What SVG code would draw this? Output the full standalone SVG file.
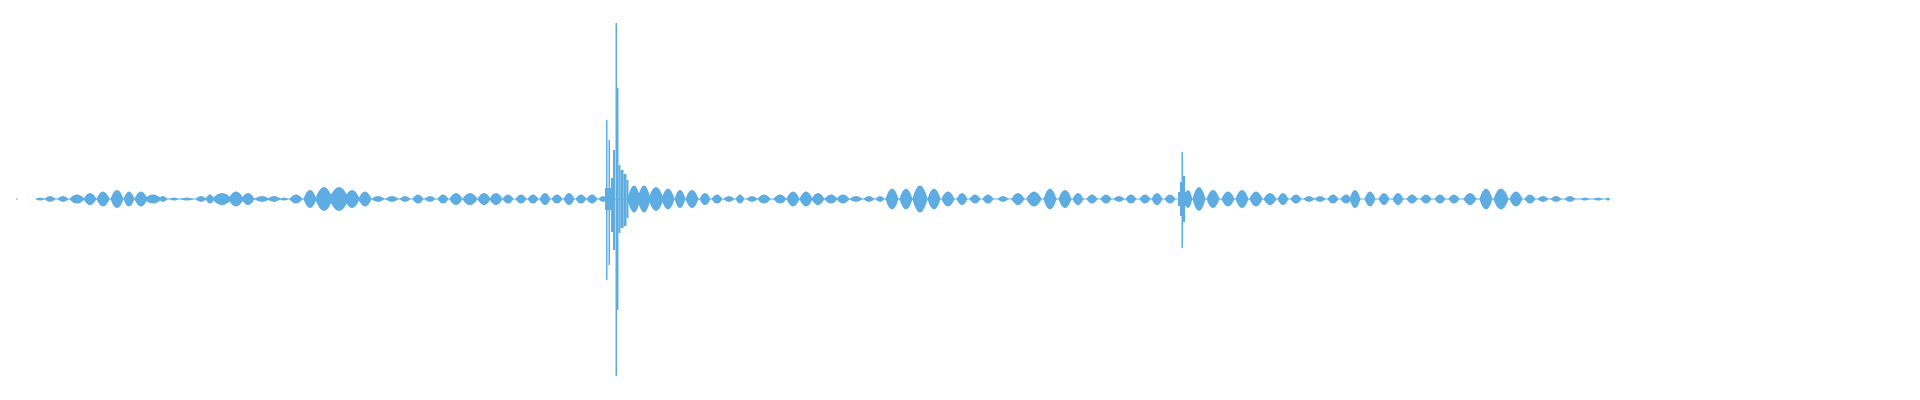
<svg xmlns="http://www.w3.org/2000/svg" width="1920" height="400" viewBox="0 0 1920 400">
<defs><path id="b" d="M-1.1 0Q0 -3 1.1 0Q0 3 -1.1 0Z"/></defs>
<style>use{fill:#5dade2}.r{fill:#5dade2}</style>
<rect width="1920" height="400" fill="#fff"/>
<g id="wave">
<rect class="r" x="16" y="198.5" width="2" height="1"/>
<rect class="r" x="36" y="198.5" width="1572" height="1"/>
<use href="#b" transform="translate(40,199) scale(4,1)"/><use href="#b" transform="translate(50,199) scale(5,2)"/><use href="#b" transform="translate(63,199) scale(5,2)"/><use href="#b" transform="translate(77,199) scale(7,3)"/><use href="#b" transform="translate(90,199) scale(6,4)"/><use href="#b" transform="translate(103,199) scale(6,5)"/><use href="#b" transform="translate(117,199) scale(6,6)"/><use href="#b" transform="translate(129,199) scale(5,5)"/><use href="#b" transform="translate(141,199) scale(6,5)"/><use href="#b" transform="translate(153,199) scale(8,3)"/><use href="#b" transform="translate(163,199) scale(4,2)"/><use href="#b" transform="translate(174,199) scale(4,1)"/><use href="#b" transform="translate(187,199) scale(6,1)"/><use href="#b" transform="translate(201,199) scale(5,2)"/><use href="#b" transform="translate(210,199) scale(4,3)"/><use href="#b" transform="translate(222,199) scale(9,4)"/><use href="#b" transform="translate(236,199) scale(7,5)"/><use href="#b" transform="translate(248,199) scale(6,4)"/><use href="#b" transform="translate(262,199) scale(7,2)"/><use href="#b" transform="translate(274,199) scale(6,2)"/><use href="#b" transform="translate(284,199) scale(4,1)"/><use href="#b" transform="translate(296,199) scale(6,3)"/><use href="#b" transform="translate(310,199) scale(6,6)"/><use href="#b" transform="translate(324,199) scale(8,8)"/><use href="#b" transform="translate(339,199) scale(9,8)"/><use href="#b" transform="translate(352,199) scale(7,6)"/><use href="#b" transform="translate(365,199) scale(6,5)"/><use href="#b" transform="translate(378,199) scale(6,2)"/><use href="#b" transform="translate(392,199) scale(6,2)"/><use href="#b" transform="translate(405,199) scale(5,2)"/><use href="#b" transform="translate(418,199) scale(5,3)"/><use href="#b" transform="translate(430,199) scale(5,2)"/><use href="#b" transform="translate(443,199) scale(5,3)"/><use href="#b" transform="translate(456,199) scale(6,4)"/><use href="#b" transform="translate(470,199) scale(7,4)"/><use href="#b" transform="translate(484,199) scale(6,4)"/><use href="#b" transform="translate(496,199) scale(6,4)"/><use href="#b" transform="translate(508,199) scale(5,3)"/><use href="#b" transform="translate(521,199) scale(5,3)"/><use href="#b" transform="translate(533,199) scale(5,3)"/><use href="#b" transform="translate(545,199) scale(5,4)"/><use href="#b" transform="translate(557,199) scale(5,3)"/><use href="#b" transform="translate(569,199) scale(5,4)"/><use href="#b" transform="translate(581,199) scale(5,3)"/><use href="#b" transform="translate(592,199) scale(5,3)"/><use href="#b" transform="translate(603,199) scale(4,2)"/>
<rect class="r" x="615.5" y="23" width="1.5" height="353"/>
<rect class="r" x="606" y="120" width="1.5" height="160"/>
<rect class="r" x="608.5" y="140" width="1.5" height="125"/>
<rect class="r" x="605" y="188" width="6" height="22"/>
<rect class="r" x="611" y="178" width="2" height="54"/>
<rect class="r" x="613" y="150" width="2" height="100"/>
<rect class="r" x="617" y="88" width="1.5" height="222"/>
<rect class="r" x="618.5" y="165" width="2" height="68"/>
<rect class="r" x="620.5" y="170" width="3" height="58"/>
<rect class="r" x="623.5" y="174" width="3" height="52"/>
<rect class="r" x="626.5" y="180" width="2" height="38"/>
<use href="#b" transform="translate(634,199) scale(6,9)"/><use href="#b" transform="translate(644,199) scale(6,9)"/><use href="#b" transform="translate(656,199) scale(7,8)"/><use href="#b" transform="translate(668,199) scale(6,7)"/><use href="#b" transform="translate(680,199) scale(5,6)"/><use href="#b" transform="translate(692,199) scale(6,6)"/><use href="#b" transform="translate(705,199) scale(5,4)"/><use href="#b" transform="translate(717,199) scale(5,3)"/><use href="#b" transform="translate(729,199) scale(5,2)"/><use href="#b" transform="translate(740,199) scale(4,3)"/><use href="#b" transform="translate(752,199) scale(5,2)"/><use href="#b" transform="translate(764,199) scale(6,3)"/><use href="#b" transform="translate(780,199) scale(6,3)"/><use href="#b" transform="translate(793,199) scale(6,5)"/><use href="#b" transform="translate(806,199) scale(6,5)"/><use href="#b" transform="translate(818,199) scale(6,4)"/><use href="#b" transform="translate(831,199) scale(6,3)"/><use href="#b" transform="translate(843,199) scale(6,3)"/><use href="#b" transform="translate(856,199) scale(6,2)"/><use href="#b" transform="translate(869,199) scale(5,2)"/><use href="#b" transform="translate(880,199) scale(4,2)"/><use href="#b" transform="translate(892,199) scale(6,7)"/><use href="#b" transform="translate(906,199) scale(6,7)"/><use href="#b" transform="translate(920,199) scale(7,9)"/><use href="#b" transform="translate(934,199) scale(6,7)"/><use href="#b" transform="translate(948,199) scale(6,5)"/><use href="#b" transform="translate(962,199) scale(5,4)"/><use href="#b" transform="translate(975,199) scale(5,3)"/><use href="#b" transform="translate(988,199) scale(5,3)"/><use href="#b" transform="translate(1003,199) scale(5,2)"/><use href="#b" transform="translate(1018,199) scale(6,4)"/><use href="#b" transform="translate(1034,199) scale(7,5)"/><use href="#b" transform="translate(1050,199) scale(6,7)"/><use href="#b" transform="translate(1065,199) scale(6,6)"/><use href="#b" transform="translate(1078,199) scale(5,4)"/><use href="#b" transform="translate(1092,199) scale(5,3)"/><use href="#b" transform="translate(1106,199) scale(5,3)"/><use href="#b" transform="translate(1119,199) scale(5,2)"/><use href="#b" transform="translate(1131,199) scale(5,3)"/><use href="#b" transform="translate(1145,199) scale(5,3)"/><use href="#b" transform="translate(1157,199) scale(5,4)"/><use href="#b" transform="translate(1170,199) scale(5,3)"/>
<rect class="r" x="1181.5" y="152" width="1.5" height="96"/>
<rect class="r" x="1180" y="182" width="2" height="34"/>
<rect class="r" x="1183" y="176" width="2" height="46"/>
<rect class="r" x="1178" y="192" width="8" height="14"/>
<use href="#b" transform="translate(1188,199) scale(4,6)"/><use href="#b" transform="translate(1199,199) scale(6,8)"/><use href="#b" transform="translate(1213,199) scale(6,6)"/><use href="#b" transform="translate(1228,199) scale(6,5)"/><use href="#b" transform="translate(1242,199) scale(6,6)"/><use href="#b" transform="translate(1256,199) scale(6,5)"/><use href="#b" transform="translate(1270,199) scale(6,4)"/><use href="#b" transform="translate(1283,199) scale(5,4)"/><use href="#b" transform="translate(1296,199) scale(5,3)"/><use href="#b" transform="translate(1309,199) scale(5,2)"/><use href="#b" transform="translate(1320,199) scale(5,2)"/><use href="#b" transform="translate(1333,199) scale(5,3)"/><use href="#b" transform="translate(1346,199) scale(5,3)"/><use href="#b" transform="translate(1355,199) scale(5,6)"/><use href="#b" transform="translate(1370,199) scale(5,5)"/><use href="#b" transform="translate(1384,199) scale(5,4)"/><use href="#b" transform="translate(1398,199) scale(5,4)"/><use href="#b" transform="translate(1412,199) scale(5,3)"/><use href="#b" transform="translate(1426,199) scale(5,3)"/><use href="#b" transform="translate(1440,199) scale(5,3)"/><use href="#b" transform="translate(1454,199) scale(5,3)"/><use href="#b" transform="translate(1470,199) scale(6,4)"/><use href="#b" transform="translate(1486,199) scale(6,7)"/><use href="#b" transform="translate(1501,199) scale(7,7)"/><use href="#b" transform="translate(1516,199) scale(6,5)"/><use href="#b" transform="translate(1530,199) scale(5,3)"/><use href="#b" transform="translate(1543,199) scale(5,2)"/><use href="#b" transform="translate(1556,199) scale(5,2)"/><use href="#b" transform="translate(1570,199) scale(5,2)"/><use href="#b" transform="translate(1585,199) scale(4,1)"/><use href="#b" transform="translate(1598,199) scale(4,1)"/><use href="#b" transform="translate(1608,199) scale(2,1)"/>
</g>
</svg>
